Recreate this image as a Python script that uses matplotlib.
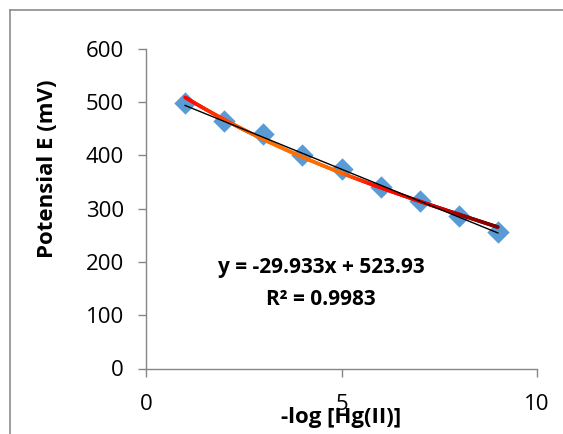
import numpy as np
import matplotlib
matplotlib.use("Agg")
import matplotlib.pyplot as plt
from matplotlib.collections import LineCollection
from matplotlib.colors import LinearSegmentedColormap
from matplotlib.lines import Line2D

x_vals = [1, 2, 3, 4, 5, 6, 7, 8, 9]
e_vals = [498, 465, 440, 400, 375, 341, 315, 286, 257]
# readings of the polynomial (gradient) trend curve
curve_x = [1, 2.23, 4, 6, 7.33, 9]
curve_y = [510, 457, 398, 341, 304, 266]
slope = -29.933
intercept = 523.93
eq_text = "y = -29.933x + 523.93"
r2_text = "R² = 0.9983"
x_ticks = [0, 5, 10]
y_ticks = [0, 100, 200, 300, 400, 500, 600]

plt.rcParams['font.family'] = ['Open Sans', 'DejaVu Sans']

W, H = 563, 434
fig = plt.figure(figsize=(W / 100, H / 100), dpi=100)
# outer chart border (left and top visible)
fig.add_artist(Line2D([9.5 / W, 9.5 / W], [0, 1 - 10 / H], transform=fig.transFigure,
                      color='#8c8c8c', lw=1.2))
fig.add_artist(Line2D([9.5 / W, 1], [1 - 10 / H, 1 - 10 / H], transform=fig.transFigure,
                      color='#8c8c8c', lw=1.2))

ax = fig.add_axes([146 / W, 1 - 368.5 / H, (537 - 146) / W, (368.5 - 49) / H])

x = np.array(x_vals, float)
y = np.array(e_vals, float)

ax.scatter(x, y, marker='D', s=130, color='#5B9BD5', zorder=2, linewidths=0)

# polynomial trend curve with gradient colour
coef = np.polyfit(curve_x, curve_y, 3)
xs = np.linspace(1, 9, 300)
ys = np.polyval(coef, xs)
pts = np.array([xs, ys]).T.reshape(-1, 1, 2)
segs = np.concatenate([pts[:-1], pts[1:]], axis=1)
cmap = LinearSegmentedColormap.from_list('g', [(0, '#ff0000'), (0.15, '#ff5000'), (0.25, '#ff7000'),
                                               (0.5, '#ff6a00'), (0.6, '#ff1000'),
                                               (0.8, '#e00000'), (0.9, '#9a0000'), (1.0, '#800000')])
lc = LineCollection(segs, cmap=cmap, linewidths=2.6, zorder=3, capstyle='round')
lc.set_array((xs[:-1] - 1) / 8)
ax.add_collection(lc)

# linear trendline
xl = np.array([1, 9])
ax.plot(xl, slope * xl + intercept, color='black', lw=1.0, zorder=4)

ax.set_xlim(0, 10)
ax.set_ylim(0, 600)
ax.set_xticks(x_ticks)
ax.set_yticks(y_ticks)
for s in ['top', 'right']:
    ax.spines[s].set_visible(False)
for s in ['left', 'bottom']:
    ax.spines[s].set_color('#868686')
    ax.spines[s].set_linewidth(1.0)
ax.tick_params(axis='both', colors='#868686', labelcolor='black', labelsize=16, length=6, width=1.0)
ax.tick_params(axis='x', pad=12)
ax.tick_params(axis='y', pad=10)

fig.text(47.5 / W, 1 - 168.5 / H, "Potensial E (mV)", rotation=90, ha='center', va='center',
         fontsize=16, fontweight='bold')
fig.text(341.5 / W, 1 - 407 / H, "-log [Hg(II)]", ha='center', va='top', fontsize=16, fontweight='bold')

ax.text(4.48, 189, eq_text, ha='center', va='center', fontsize=15, fontweight='bold')
ax.text(4.48, 129.6, r2_text, ha='center', va='center', fontsize=15, fontweight='bold')

fig.savefig("out.png", dpi=100)
